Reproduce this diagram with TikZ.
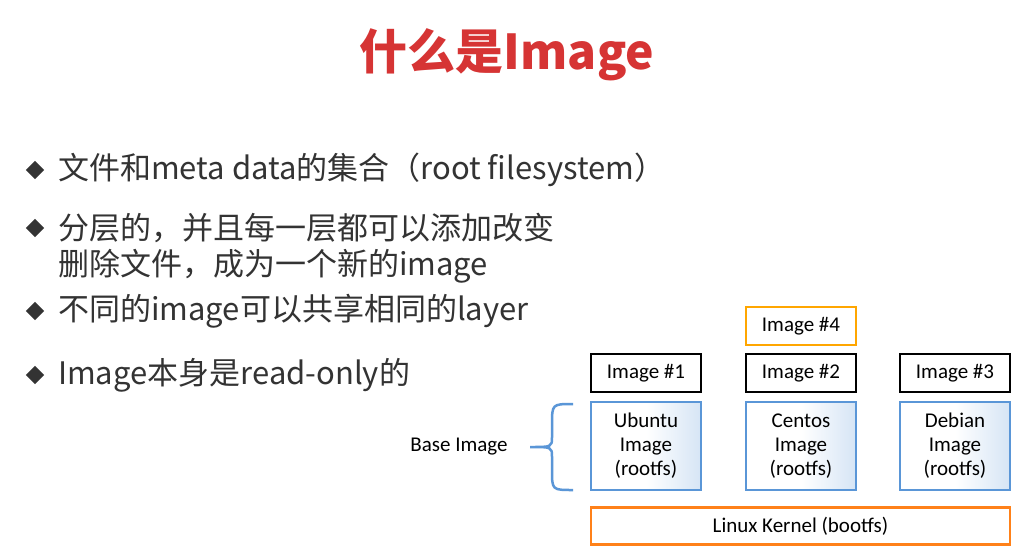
\documentclass[tikz,border=0pt]{standalone}
\usepackage{fontspec}
\newfontfamily\cjk{Noto Sans CJK SC}
\newfontfamily\carl{Carlito}
\definecolor{ttl}{RGB}{214,52,52}
\definecolor{bblue}{RGB}{90,150,215}
\begin{document}
\begin{tikzpicture}[x=1pt,y=-1pt,
  bul/.style={anchor=west,font=\cjk\fontsize{31}{36}\selectfont,text=black!80,inner sep=0},
  dia/.style={fill=black!80,minimum size=13,inner sep=0,shape=rectangle,rotate=45},
  lbl/.style={draw,line width=2.2,minimum width=110,minimum height=38,font=\carl\fontsize{21}{24}\selectfont,inner sep=0},
  base/.style={draw=bblue,line width=2.5,minimum width=110,minimum height=88,font=\carl\fontsize{21}{24}\selectfont,align=center,inner sep=0,left color=white,right color=bblue!25,middle color=white}]
\useasboundingbox[fill=white] (0,0) rectangle (1024,552);
\node[font=\cjk\bfseries\fontsize{48}{56}\selectfont,text=ttl] (t) at (507,55) {什么是Image};
\foreach \y/\n in {170/a,228/b,311/c,375/d}{\node[dia] (d\n) at (35,\y) {};}
\node[bul] (ta) at (58,170) {文件和meta data的集合（root filesystem）};
\node[bul] (tb) at (58,228) {分层的，并且每一层都可以添加改变};
\node[bul] (tb2) at (58,266) {删除文件，成为一个新的image};
\node[bul] (tc) at (58,311) {不同的image可以共享相同的layer};
\node[bul] (td) at (58,375) {Image本身是read-only的};
\node[lbl,draw=orange!70!yellow] (i4) at (801,326) {Image \#4};
\node[lbl] (i1) at (646,373) {Image \#1};
\node[lbl] (i2) at (801,373) {Image \#2};
\node[lbl] (i3) at (955,373) {Image \#3};
\node[base] (b1) at (646,446) {Ubuntu\\Image\\(rootfs)};
\node[base] (b2) at (801,446) {Centos\\Image\\(rootfs)};
\node[base] (b3) at (955,446) {Debian\\Image\\(rootfs)};
\node[draw=orange!90!red!90,line width=2.5,minimum width=419,minimum height=37,font=\carl\fontsize{21}{24}\selectfont,inner sep=0] (k) at (800.5,526) {Linux Kernel (bootfs)};
\node[font=\carl\fontsize{21}{24}\selectfont] (bi) at (459,447) {Base Image};
\draw[bblue,line width=2.5] (573,404) .. controls (552,404) and (552,404) .. (552,425) -- (552,437) .. controls (552,447) .. (530,447) .. controls (552,447) .. (552,457) -- (552,470) .. controls (552,490) and (552,490) .. (573,490);
\end{tikzpicture}
\end{document}
